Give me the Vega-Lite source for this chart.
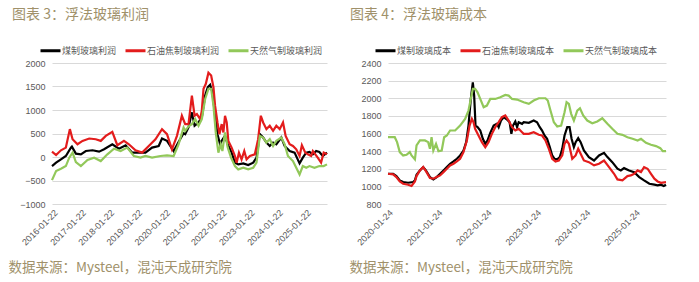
{
"$schema": "https://vega.github.io/schema/vega-lite/v6.json",
"background": "white",
"padding": {"left": 8, "top": 8, "right": 5, "bottom": 2},
"datasets": {
"profit": [
{"date":"2016-01-10","series":"煤制玻璃利润","value":-193},{"date":"2016-03-03","series":"煤制玻璃利润","value":-121},{"date":"2016-05-05","series":"煤制玻璃利润","value":-50},{"date":"2016-07-08","series":"煤制玻璃利润","value":21},{"date":"2016-09-11","series":"煤制玻璃利润","value":200},{"date":"2016-09-24","series":"煤制玻璃利润","value":221},{"date":"2016-11-15","series":"煤制玻璃利润","value":71},{"date":"2017-01-19","series":"煤制玻璃利润","value":57},{"date":"2017-03-24","series":"煤制玻璃利润","value":128},{"date":"2017-06-19","series":"煤制玻璃利润","value":143},{"date":"2017-09-12","series":"煤制玻璃利润","value":114},{"date":"2017-11-16","series":"煤制玻璃利润","value":164},{"date":"2018-03-03","series":"煤制玻璃利润","value":271},{"date":"2018-05-28","series":"煤制玻璃利润","value":178},{"date":"2018-08-23","series":"煤制玻璃利润","value":250},{"date":"2018-11-16","series":"煤制玻璃利润","value":93},{"date":"2019-02-11","series":"煤制玻璃利润","value":93},{"date":"2019-05-07","series":"煤制玻璃利润","value":93},{"date":"2019-08-01","series":"煤制玻璃利润","value":200},{"date":"2019-10-26","series":"煤制玻璃利润","value":235},{"date":"2019-12-08","series":"煤制玻璃利润","value":393},{"date":"2020-02-11","series":"煤制玻璃利润","value":343},{"date":"2020-05-07","series":"煤制玻璃利润","value":128},{"date":"2020-07-10","series":"煤制玻璃利润","value":321},{"date":"2020-09-13","series":"煤制玻璃利润","value":507},{"date":"2020-10-04","series":"煤制玻璃利润","value":486},{"date":"2020-11-16","series":"煤制玻璃利润","value":628},{"date":"2020-12-30","series":"煤制玻璃利润","value":950},{"date":"2021-02-03","series":"煤制玻璃利润","value":664},{"date":"2021-03-26","series":"煤制玻璃利润","value":735},{"date":"2021-05-08","series":"煤制玻璃利润","value":843},{"date":"2021-06-20","series":"煤制玻璃利润","value":1307},{"date":"2021-07-25","series":"煤制玻璃利润","value":1485},{"date":"2021-08-24","series":"煤制玻璃利润","value":1535},{"date":"2021-09-23","series":"煤制玻璃利润","value":1378},{"date":"2021-10-27","series":"煤制玻璃利润","value":878},{"date":"2021-11-27","series":"煤制玻璃利润","value":486},{"date":"2021-12-31","series":"煤制玻璃利润","value":271},{"date":"2022-01-21","series":"煤制玻璃利润","value":343},{"date":"2022-03-05","series":"煤制玻璃利润","value":450},{"date":"2022-04-09","series":"煤制玻璃利润","value":271},{"date":"2022-05-30","series":"煤制玻璃利润","value":93},{"date":"2022-07-12","series":"煤制玻璃利润","value":-121},{"date":"2022-08-24","series":"煤制玻璃利润","value":-157},{"date":"2022-10-28","series":"煤制玻璃利润","value":-136},{"date":"2022-12-31","series":"煤制玻璃利润","value":-171},{"date":"2023-03-06","series":"煤制玻璃利润","value":-121},{"date":"2023-04-18","series":"煤制玻璃利润","value":-14},{"date":"2023-05-31","series":"煤制玻璃利润","value":486},{"date":"2023-07-13","series":"煤制玻璃利润","value":414},{"date":"2023-08-25","series":"煤制玻璃利润","value":307},{"date":"2023-10-07","series":"煤制玻璃利润","value":235},{"date":"2023-11-19","series":"煤制玻璃利润","value":307},{"date":"2023-12-31","series":"煤制玻璃利润","value":271},{"date":"2024-03-05","series":"煤制玻璃利润","value":414},{"date":"2024-04-17","series":"煤制玻璃利润","value":235},{"date":"2024-06-21","series":"煤制玻璃利润","value":128},{"date":"2024-08-24","series":"煤制玻璃利润","value":93},{"date":"2024-10-28","series":"煤制玻璃利润","value":-136},{"date":"2024-12-09","series":"煤制玻璃利润","value":-14},{"date":"2025-01-22","series":"煤制玻璃利润","value":93},{"date":"2025-03-06","series":"煤制玻璃利润","value":107},{"date":"2025-04-18","series":"煤制玻璃利润","value":57},{"date":"2025-05-31","series":"煤制玻璃利润","value":128},{"date":"2025-07-12","series":"煤制玻璃利润","value":107},{"date":"2025-08-25","series":"煤制玻璃利润","value":21},{"date":"2025-10-19","series":"煤制玻璃利润","value":93},
{"date":"2016-01-10","series":"石油焦制玻璃利润","value":114},{"date":"2016-03-03","series":"石油焦制玻璃利润","value":43},{"date":"2016-05-05","series":"石油焦制玻璃利润","value":143},{"date":"2016-07-08","series":"石油焦制玻璃利润","value":200},{"date":"2016-08-29","series":"石油焦制玻璃利润","value":593},{"date":"2016-10-03","series":"石油焦制玻璃利润","value":378},{"date":"2016-12-06","series":"石油焦制玻璃利润","value":271},{"date":"2017-02-09","series":"石油焦制玻璃利润","value":343},{"date":"2017-05-07","series":"石油焦制玻璃利润","value":393},{"date":"2017-07-31","series":"石油焦制玻璃利润","value":378},{"date":"2017-10-04","series":"石油焦制玻璃利润","value":343},{"date":"2017-12-08","series":"石油焦制玻璃利润","value":450},{"date":"2018-03-03","series":"石油焦制玻璃利润","value":535},{"date":"2018-05-07","series":"石油焦制玻璃利润","value":250},{"date":"2018-08-01","series":"石油焦制玻璃利润","value":343},{"date":"2018-10-04","series":"石油焦制玻璃利润","value":271},{"date":"2018-12-29","series":"石油焦制玻璃利润","value":143},{"date":"2019-03-25","series":"石油焦制玻璃利润","value":93},{"date":"2019-06-19","series":"石油焦制玻璃利润","value":235},{"date":"2019-09-14","series":"石油焦制玻璃利润","value":378},{"date":"2019-12-08","series":"石油焦制玻璃利润","value":593},{"date":"2020-02-11","series":"石油焦制玻璃利润","value":486},{"date":"2020-04-15","series":"石油焦制玻璃利润","value":164},{"date":"2020-06-19","series":"石油焦制玻璃利润","value":450},{"date":"2020-08-22","series":"石油焦制玻璃利润","value":878},{"date":"2020-10-04","series":"石油焦制玻璃利润","value":700},{"date":"2020-11-16","series":"石油焦制玻璃利润","value":700},{"date":"2020-12-30","series":"石油焦制玻璃利润","value":1307},{"date":"2021-02-03","series":"石油焦制玻璃利润","value":878},{"date":"2021-03-05","series":"石油焦制玻璃利润","value":914},{"date":"2021-04-17","series":"石油焦制玻璃利润","value":807},{"date":"2021-05-08","series":"石油焦制玻璃利润","value":985},{"date":"2021-05-30","series":"石油焦制玻璃利润","value":1450},{"date":"2021-06-29","series":"石油焦制玻璃利润","value":1557},{"date":"2021-08-02","series":"石油焦制玻璃利润","value":1792},{"date":"2021-09-06","series":"石油焦制玻璃利润","value":1735},{"date":"2021-10-06","series":"石油焦制玻璃利润","value":1485},{"date":"2021-10-27","series":"石油焦制玻璃利润","value":1093},{"date":"2021-11-27","series":"石油焦制玻璃利润","value":735},{"date":"2021-12-22","series":"石油焦制玻璃利润","value":486},{"date":"2022-01-21","series":"石油焦制玻璃利润","value":700},{"date":"2022-02-12","series":"石油焦制玻璃利润","value":521},{"date":"2022-03-05","series":"石油焦制玻璃利润","value":878},{"date":"2022-03-27","series":"石油焦制玻璃利润","value":735},{"date":"2022-04-17","series":"石油焦制玻璃利润","value":343},{"date":"2022-05-30","series":"石油焦制玻璃利润","value":200},{"date":"2022-07-12","series":"石油焦制玻璃利润","value":21},{"date":"2022-08-03","series":"石油焦制玻璃利润","value":-121},{"date":"2022-09-02","series":"石油焦制玻璃利润","value":93},{"date":"2022-10-06","series":"石油焦制玻璃利润","value":-50},{"date":"2022-11-10","series":"石油焦制玻璃利润","value":128},{"date":"2022-12-10","series":"石油焦制玻璃利润","value":-50},{"date":"2023-01-22","series":"石油焦制玻璃利润","value":21},{"date":"2023-03-27","series":"石油焦制玻璃利润","value":57},{"date":"2023-05-09","series":"石油焦制玻璃利润","value":378},{"date":"2023-06-13","series":"石油焦制玻璃利润","value":878},{"date":"2023-07-13","series":"石油焦制玻璃利润","value":735},{"date":"2023-08-25","series":"石油焦制玻璃利润","value":593},{"date":"2023-10-07","series":"石油焦制玻璃利润","value":664},{"date":"2023-11-19","series":"石油焦制玻璃利润","value":557},{"date":"2023-12-31","series":"石油焦制玻璃利润","value":664},{"date":"2024-02-13","series":"石油焦制玻璃利润","value":593},{"date":"2024-03-27","series":"石油焦制玻璃利润","value":735},{"date":"2024-04-30","series":"石油焦制玻璃利润","value":450},{"date":"2024-06-21","series":"石油焦制玻璃利润","value":271},{"date":"2024-08-03","series":"石油焦制玻璃利润","value":235},{"date":"2024-09-15","series":"石油焦制玻璃利润","value":164},{"date":"2024-10-28","series":"石油焦制玻璃利润","value":21},{"date":"2024-11-27","series":"石油焦制玻璃利润","value":250},{"date":"2025-01-10","series":"石油焦制玻璃利润","value":93},{"date":"2025-02-12","series":"石油焦制玻璃利润","value":57},{"date":"2025-03-27","series":"石油焦制玻璃利润","value":21},{"date":"2025-04-18","series":"石油焦制玻璃利润","value":128},{"date":"2025-06-21","series":"石油焦制玻璃利润","value":-14},{"date":"2025-08-03","series":"石油焦制玻璃利润","value":-121},{"date":"2025-09-06","series":"石油焦制玻璃利润","value":93},{"date":"2025-10-19","series":"石油焦制玻璃利润","value":57},
{"date":"2016-01-10","series":"天然气制玻璃利润","value":-493},{"date":"2016-03-03","series":"天然气制玻璃利润","value":-300},{"date":"2016-05-05","series":"天然气制玻璃利润","value":-250},{"date":"2016-07-08","series":"天然气制玻璃利润","value":-193},{"date":"2016-08-21","series":"天然气制玻璃利润","value":-14},{"date":"2016-10-03","series":"天然气制玻璃利润","value":93},{"date":"2016-11-15","series":"天然气制玻璃利润","value":-107},{"date":"2017-01-19","series":"天然气制玻璃利润","value":-193},{"date":"2017-04-15","series":"天然气制玻璃利润","value":-64},{"date":"2017-07-10","series":"天然气制玻璃利润","value":-14},{"date":"2017-10-04","series":"天然气制玻璃利润","value":-86},{"date":"2017-12-29","series":"天然气制玻璃利润","value":57},{"date":"2018-03-25","series":"天然气制玻璃利润","value":178},{"date":"2018-06-19","series":"天然气制玻璃利润","value":128},{"date":"2018-09-13","series":"天然气制玻璃利润","value":200},{"date":"2018-12-08","series":"天然气制玻璃利润","value":21},{"date":"2019-03-04","series":"天然气制玻璃利润","value":-14},{"date":"2019-05-07","series":"天然气制玻璃利润","value":21},{"date":"2019-08-01","series":"天然气制玻璃利润","value":-14},{"date":"2019-11-17","series":"天然气制玻璃利润","value":21},{"date":"2020-02-11","series":"天然气制玻璃利润","value":35},{"date":"2020-05-07","series":"天然气制玻璃利润","value":21},{"date":"2020-07-10","series":"天然气制玻璃利润","value":271},{"date":"2020-09-13","series":"天然气制玻璃利润","value":628},{"date":"2020-10-04","series":"天然气制玻璃利润","value":557},{"date":"2020-11-16","series":"天然气制玻璃利润","value":650},{"date":"2020-12-30","series":"天然气制玻璃利润","value":700},{"date":"2021-02-11","series":"天然气制玻璃利润","value":807},{"date":"2021-03-26","series":"天然气制玻璃利润","value":664},{"date":"2021-05-08","series":"天然气制玻璃利润","value":807},{"date":"2021-06-20","series":"天然气制玻璃利润","value":1235},{"date":"2021-08-02","series":"天然气制玻璃利润","value":1450},{"date":"2021-09-06","series":"天然气制玻璃利润","value":1450},{"date":"2021-10-06","series":"天然气制玻璃利润","value":1093},{"date":"2021-11-05","series":"天然气制玻璃利润","value":521},{"date":"2021-12-09","series":"天然气制玻璃利润","value":93},{"date":"2022-01-08","series":"天然气制玻璃利润","value":271},{"date":"2022-01-30","series":"天然气制玻璃利润","value":128},{"date":"2022-03-05","series":"天然气制玻璃利润","value":521},{"date":"2022-04-09","series":"天然气制玻璃利润","value":200},{"date":"2022-05-22","series":"天然气制玻璃利润","value":-14},{"date":"2022-07-12","series":"天然气制玻璃利润","value":-193},{"date":"2022-08-24","series":"天然气制玻璃利润","value":-264},{"date":"2022-10-28","series":"天然气制玻璃利润","value":-228},{"date":"2022-12-31","series":"天然气制玻璃利润","value":-264},{"date":"2023-03-06","series":"天然气制玻璃利润","value":-228},{"date":"2023-04-18","series":"天然气制玻璃利润","value":-121},{"date":"2023-05-31","series":"天然气制玻璃利润","value":450},{"date":"2023-07-13","series":"天然气制玻璃利润","value":414},{"date":"2023-08-25","series":"天然气制玻璃利润","value":307},{"date":"2023-10-07","series":"天然气制玻璃利润","value":378},{"date":"2023-11-19","series":"天然气制玻璃利润","value":235},{"date":"2023-12-31","series":"天然气制玻璃利润","value":343},{"date":"2024-03-05","series":"天然气制玻璃利润","value":414},{"date":"2024-04-17","series":"天然气制玻璃利润","value":271},{"date":"2024-05-30","series":"天然气制玻璃利润","value":21},{"date":"2024-08-03","series":"天然气制玻璃利润","value":-86},{"date":"2024-09-15","series":"天然气制玻璃利润","value":-228},{"date":"2024-10-28","series":"天然气制玻璃利润","value":-371},{"date":"2024-12-09","series":"天然气制玻璃利润","value":-193},{"date":"2025-01-22","series":"天然气制玻璃利润","value":-228},{"date":"2025-03-06","series":"天然气制玻璃利润","value":-193},{"date":"2025-05-09","series":"天然气制玻璃利润","value":-228},{"date":"2025-07-12","series":"天然气制玻璃利润","value":-193},{"date":"2025-09-06","series":"天然气制玻璃利润","value":-193},{"date":"2025-10-19","series":"天然气制玻璃利润","value":-157}
],
"cost": [
{"date":"2020-01-24","series":"煤制玻璃成本","value":1143},{"date":"2020-03-02","series":"煤制玻璃成本","value":1143},{"date":"2020-03-26","series":"煤制玻璃成本","value":1117},{"date":"2020-04-20","series":"煤制玻璃成本","value":1068},{"date":"2020-05-15","series":"煤制玻璃成本","value":1049},{"date":"2020-06-21","series":"煤制玻璃成本","value":1041},{"date":"2020-07-28","series":"煤制玻璃成本","value":1049},{"date":"2020-08-10","series":"煤制玻璃成本","value":1068},{"date":"2020-08-22","series":"煤制玻璃成本","value":1132},{"date":"2020-09-16","series":"煤制玻璃成本","value":1181},{"date":"2020-10-10","series":"煤制玻璃成本","value":1219},{"date":"2020-10-30","series":"煤制玻璃成本","value":1181},{"date":"2020-11-29","series":"煤制玻璃成本","value":1106},{"date":"2020-12-24","series":"煤制玻璃成本","value":1079},{"date":"2021-01-18","series":"煤制玻璃成本","value":1106},{"date":"2021-02-12","series":"煤制玻璃成本","value":1143},{"date":"2021-03-09","series":"煤制玻璃成本","value":1181},{"date":"2021-04-03","series":"煤制玻璃成本","value":1219},{"date":"2021-04-27","series":"煤制玻璃成本","value":1257},{"date":"2021-05-22","series":"煤制玻璃成本","value":1283},{"date":"2021-06-16","series":"煤制玻璃成本","value":1313},{"date":"2021-07-10","series":"煤制玻璃成本","value":1351},{"date":"2021-08-04","series":"煤制玻璃成本","value":1407},{"date":"2021-08-24","series":"煤制玻璃成本","value":1502},{"date":"2021-09-10","series":"煤制玻璃成本","value":1690},{"date":"2021-09-27","series":"煤制玻璃成本","value":1992},{"date":"2021-10-12","series":"煤制玻璃成本","value":2181},{"date":"2021-10-22","series":"煤制玻璃成本","value":2030},{"date":"2021-11-01","series":"煤制玻璃成本","value":1690},{"date":"2021-11-16","series":"煤制玻璃成本","value":1672},{"date":"2021-12-06","series":"煤制玻璃成本","value":1634},{"date":"2021-12-25","series":"煤制玻璃成本","value":1540},{"date":"2022-01-12","series":"煤制玻璃成本","value":1483},{"date":"2022-01-29","series":"煤制玻璃成本","value":1521},{"date":"2022-02-18","series":"煤制玻璃成本","value":1607},{"date":"2022-03-15","series":"煤制玻璃成本","value":1690},{"date":"2022-04-08","series":"煤制玻璃成本","value":1710},{"date":"2022-04-21","series":"煤制玻璃成本","value":1672},{"date":"2022-05-08","series":"煤制玻璃成本","value":1747},{"date":"2022-05-28","series":"煤制玻璃成本","value":1785},{"date":"2022-06-22","series":"煤制玻璃成本","value":1758},{"date":"2022-07-11","series":"煤制玻璃成本","value":1728},{"date":"2022-07-24","series":"煤制玻璃成本","value":1596},{"date":"2022-08-05","series":"煤制玻璃成本","value":1690},{"date":"2022-08-22","series":"煤制玻璃成本","value":1736},{"date":"2022-09-04","series":"煤制玻璃成本","value":1672},{"date":"2022-09-16","series":"煤制玻璃成本","value":1728},{"date":"2022-10-11","series":"煤制玻璃成本","value":1710},{"date":"2022-10-23","series":"煤制玻璃成本","value":1728},{"date":"2022-11-30","series":"煤制玻璃成本","value":1721},{"date":"2023-01-05","series":"煤制玻璃成本","value":1747},{"date":"2023-01-30","series":"煤制玻璃成本","value":1728},{"date":"2023-02-19","series":"煤制玻璃成本","value":1672},{"date":"2023-03-08","series":"煤制玻璃成本","value":1634},{"date":"2023-03-26","series":"煤制玻璃成本","value":1577},{"date":"2023-04-14","series":"煤制玻璃成本","value":1540},{"date":"2023-05-04","series":"煤制玻璃成本","value":1445},{"date":"2023-05-22","series":"煤制玻璃成本","value":1351},{"date":"2023-06-08","series":"煤制玻璃成本","value":1313},{"date":"2023-06-28","series":"煤制玻璃成本","value":1306},{"date":"2023-07-17","series":"煤制玻璃成本","value":1332},{"date":"2023-08-04","series":"煤制玻璃成本","value":1426},{"date":"2023-08-21","series":"煤制玻璃成本","value":1577},{"date":"2023-09-10","series":"煤制玻璃成本","value":1672},{"date":"2023-09-27","series":"煤制玻璃成本","value":1672},{"date":"2023-10-12","series":"煤制玻璃成本","value":1540},{"date":"2023-10-29","series":"煤制玻璃成本","value":1445},{"date":"2023-11-11","series":"煤制玻璃成本","value":1502},{"date":"2023-11-30","series":"煤制玻璃成本","value":1547},{"date":"2023-12-18","series":"煤制玻璃成本","value":1502},{"date":"2024-01-11","series":"煤制玻璃成本","value":1407},{"date":"2024-02-17","series":"煤制玻璃成本","value":1332},{"date":"2024-03-26","series":"煤制玻璃成本","value":1294},{"date":"2024-05-02","series":"煤制玻璃成本","value":1351},{"date":"2024-06-08","series":"煤制玻璃成本","value":1381},{"date":"2024-07-03","series":"煤制玻璃成本","value":1332},{"date":"2024-08-08","series":"煤制玻璃成本","value":1275},{"date":"2024-09-15","series":"煤制玻璃成本","value":1200},{"date":"2024-10-10","series":"煤制玻璃成本","value":1181},{"date":"2024-11-03","series":"煤制玻璃成本","value":1207},{"date":"2024-12-10","series":"煤制玻璃成本","value":1181},{"date":"2025-01-17","series":"煤制玻璃成本","value":1162},{"date":"2025-02-23","series":"煤制玻璃成本","value":1106},{"date":"2025-03-31","series":"煤制玻璃成本","value":1068},{"date":"2025-05-09","series":"煤制玻璃成本","value":1030},{"date":"2025-06-15","series":"煤制玻璃成本","value":1019},{"date":"2025-07-09","series":"煤制玻璃成本","value":1011},{"date":"2025-08-03","series":"煤制玻璃成本","value":1019},{"date":"2025-08-23","series":"煤制玻璃成本","value":1004},{"date":"2025-09-09","series":"煤制玻璃成本","value":1019},
{"date":"2020-01-24","series":"石油焦制玻璃成本","value":1143},{"date":"2020-03-02","series":"石油焦制玻璃成本","value":1136},{"date":"2020-03-26","series":"石油焦制玻璃成本","value":1106},{"date":"2020-04-20","series":"石油焦制玻璃成本","value":1056},{"date":"2020-05-15","series":"石油焦制玻璃成本","value":1030},{"date":"2020-06-21","series":"石油焦制玻璃成本","value":1019},{"date":"2020-07-16","series":"石油焦制玻璃成本","value":1004},{"date":"2020-08-10","series":"石油焦制玻璃成本","value":1056},{"date":"2020-08-22","series":"石油焦制玻璃成本","value":1117},{"date":"2020-09-16","series":"石油焦制玻璃成本","value":1181},{"date":"2020-10-10","series":"石油焦制玻璃成本","value":1219},{"date":"2020-11-04","series":"石油焦制玻璃成本","value":1162},{"date":"2020-11-29","series":"石油焦制玻璃成本","value":1094},{"date":"2020-12-24","series":"石油焦制玻璃成本","value":1087},{"date":"2021-01-18","series":"石油焦制玻璃成本","value":1106},{"date":"2021-02-12","series":"石油焦制玻璃成本","value":1124},{"date":"2021-03-09","series":"石油焦制玻璃成本","value":1162},{"date":"2021-04-03","series":"石油焦制玻璃成本","value":1200},{"date":"2021-04-27","series":"石油焦制玻璃成本","value":1238},{"date":"2021-05-22","series":"石油焦制玻璃成本","value":1257},{"date":"2021-06-16","series":"石油焦制玻璃成本","value":1283},{"date":"2021-07-10","series":"石油焦制玻璃成本","value":1313},{"date":"2021-08-04","series":"石油焦制玻璃成本","value":1389},{"date":"2021-08-29","series":"石油焦制玻璃成本","value":1521},{"date":"2021-09-18","series":"石油焦制玻璃成本","value":1690},{"date":"2021-10-05","series":"石油焦制玻璃成本","value":1766},{"date":"2021-10-17","series":"石油焦制玻璃成本","value":1728},{"date":"2021-10-29","series":"石油焦制玻璃成本","value":1653},{"date":"2021-11-23","series":"石油焦制玻璃成本","value":1577},{"date":"2021-12-18","series":"石油焦制玻璃成本","value":1502},{"date":"2022-01-12","series":"石油焦制玻璃成本","value":1445},{"date":"2022-02-05","series":"石油焦制玻璃成本","value":1502},{"date":"2022-03-02","series":"石油焦制玻璃成本","value":1596},{"date":"2022-03-27","series":"石油焦制玻璃成本","value":1672},{"date":"2022-04-21","series":"石油焦制玻璃成本","value":1728},{"date":"2022-05-15","series":"石油焦制玻璃成本","value":1785},{"date":"2022-06-09","series":"石油焦制玻璃成本","value":1804},{"date":"2022-07-04","series":"石油焦制玻璃成本","value":1747},{"date":"2022-07-29","series":"石油焦制玻璃成本","value":1672},{"date":"2022-08-22","series":"石油焦制玻璃成本","value":1634},{"date":"2022-09-16","series":"石油焦制玻璃成本","value":1653},{"date":"2022-10-11","series":"石油焦制玻璃成本","value":1615},{"date":"2022-10-23","series":"石油焦制玻璃成本","value":1596},{"date":"2022-11-30","series":"石油焦制玻璃成本","value":1596},{"date":"2023-01-05","series":"石油焦制玻璃成本","value":1615},{"date":"2023-02-12","series":"石油焦制玻璃成本","value":1585},{"date":"2023-03-08","series":"石油焦制玻璃成本","value":1577},{"date":"2023-04-02","series":"石油焦制玻璃成本","value":1521},{"date":"2023-04-27","series":"石油焦制玻璃成本","value":1426},{"date":"2023-05-22","series":"石油焦制玻璃成本","value":1313},{"date":"2023-06-15","series":"石油焦制玻璃成本","value":1283},{"date":"2023-07-10","series":"石油焦制玻璃成本","value":1294},{"date":"2023-08-04","series":"石油焦制玻璃成本","value":1351},{"date":"2023-08-21","series":"石油焦制玻璃成本","value":1483},{"date":"2023-09-05","series":"石油焦制玻璃成本","value":1521},{"date":"2023-09-22","series":"石油焦制玻璃成本","value":1483},{"date":"2023-10-17","series":"石油焦制玻璃成本","value":1313},{"date":"2023-11-11","series":"石油焦制玻璃成本","value":1351},{"date":"2023-11-30","series":"石油焦制玻璃成本","value":1426},{"date":"2023-12-18","series":"石油焦制玻璃成本","value":1370},{"date":"2024-01-11","series":"石油焦制玻璃成本","value":1294},{"date":"2024-02-17","series":"石油焦制玻璃成本","value":1275},{"date":"2024-03-26","series":"石油焦制玻璃成本","value":1238},{"date":"2024-05-02","series":"石油焦制玻璃成本","value":1257},{"date":"2024-06-08","series":"石油焦制玻璃成本","value":1294},{"date":"2024-07-15","series":"石油焦制玻璃成本","value":1219},{"date":"2024-08-21","series":"石油焦制玻璃成本","value":1143},{"date":"2024-09-15","series":"石油焦制玻璃成本","value":1079},{"date":"2024-10-22","series":"石油焦制玻璃成本","value":1068},{"date":"2024-11-28","series":"石油焦制玻璃成本","value":1117},{"date":"2024-12-23","series":"石油焦制玻璃成本","value":1124},{"date":"2025-01-17","series":"石油焦制玻璃成本","value":1143},{"date":"2025-02-11","series":"石油焦制玻璃成本","value":1181},{"date":"2025-03-08","series":"石油焦制玻璃成本","value":1162},{"date":"2025-03-31","series":"石油焦制玻璃成本","value":1219},{"date":"2025-04-26","series":"石油焦制玻璃成本","value":1200},{"date":"2025-05-21","series":"石油焦制玻璃成本","value":1143},{"date":"2025-06-15","series":"石油焦制玻璃成本","value":1087},{"date":"2025-07-09","series":"石油焦制玻璃成本","value":1056},{"date":"2025-08-03","series":"石油焦制玻璃成本","value":1041},{"date":"2025-09-09","series":"石油焦制玻璃成本","value":1049},
{"date":"2020-01-24","series":"天然气制玻璃成本","value":1558},{"date":"2020-03-14","series":"天然气制玻璃成本","value":1558},{"date":"2020-03-31","series":"天然气制玻璃成本","value":1502},{"date":"2020-04-20","series":"天然气制玻璃成本","value":1389},{"date":"2020-05-15","series":"天然气制玻璃成本","value":1351},{"date":"2020-06-09","series":"天然气制玻璃成本","value":1358},{"date":"2020-07-03","series":"天然气制玻璃成本","value":1389},{"date":"2020-07-16","series":"天然气制玻璃成本","value":1351},{"date":"2020-08-10","series":"天然气制玻璃成本","value":1306},{"date":"2020-08-22","series":"天然气制玻璃成本","value":1464},{"date":"2020-09-16","series":"天然气制玻璃成本","value":1521},{"date":"2020-10-23","series":"天然气制玻璃成本","value":1521},{"date":"2020-11-16","series":"天然气制玻璃成本","value":1502},{"date":"2020-11-29","series":"天然气制玻璃成本","value":1426},{"date":"2020-12-11","series":"天然气制玻璃成本","value":1558},{"date":"2020-12-24","series":"天然气制玻璃成本","value":1407},{"date":"2021-01-13","series":"天然气制玻璃成本","value":1483},{"date":"2021-01-31","series":"天然气制玻璃成本","value":1400},{"date":"2021-02-24","series":"天然气制玻璃成本","value":1407},{"date":"2021-03-14","series":"天然气制玻璃成本","value":1558},{"date":"2021-04-03","series":"天然气制玻璃成本","value":1577},{"date":"2021-04-27","series":"天然气制玻璃成本","value":1634},{"date":"2021-06-03","series":"天然气制玻璃成本","value":1634},{"date":"2021-07-10","series":"天然气制玻璃成本","value":1690},{"date":"2021-08-16","series":"天然气制玻璃成本","value":1766},{"date":"2021-09-10","series":"天然气制玻璃成本","value":1860},{"date":"2021-09-27","series":"天然气制玻璃成本","value":1992},{"date":"2021-10-12","series":"天然气制玻璃成本","value":2106},{"date":"2021-10-29","series":"天然气制玻璃成本","value":2106},{"date":"2021-11-16","series":"天然气制玻璃成本","value":2068},{"date":"2021-12-06","series":"天然气制玻璃成本","value":1992},{"date":"2021-12-31","series":"天然气制玻璃成本","value":1898},{"date":"2022-01-24","series":"天然气制玻璃成本","value":1917},{"date":"2022-02-18","series":"天然气制玻璃成本","value":1992},{"date":"2022-03-27","series":"天然气制玻璃成本","value":1992},{"date":"2022-05-03","series":"天然气制玻璃成本","value":2011},{"date":"2022-06-09","series":"天然气制玻璃成本","value":2038},{"date":"2022-07-04","series":"天然气制玻璃成本","value":2030},{"date":"2022-07-29","series":"天然气制玻璃成本","value":1992},{"date":"2022-09-04","series":"天然气制玻璃成本","value":1985},{"date":"2022-10-23","series":"天然气制玻璃成本","value":1955},{"date":"2022-11-30","series":"天然气制玻璃成本","value":1936},{"date":"2023-01-05","series":"天然气制玻璃成本","value":1974},{"date":"2023-02-12","series":"天然气制玻璃成本","value":2000},{"date":"2023-04-02","series":"天然气制玻璃成本","value":2000},{"date":"2023-04-19","series":"天然气制玻璃成本","value":1974},{"date":"2023-05-09","series":"天然气制玻璃成本","value":1860},{"date":"2023-06-03","series":"天然气制玻璃成本","value":1728},{"date":"2023-06-28","series":"天然气制玻璃成本","value":1679},{"date":"2023-07-27","series":"天然气制玻璃成本","value":1690},{"date":"2023-08-21","series":"天然气制玻璃成本","value":1841},{"date":"2023-09-05","series":"天然气制玻璃成本","value":1955},{"date":"2023-09-22","series":"天然气制玻璃成本","value":1936},{"date":"2023-10-09","series":"天然气制玻璃成本","value":1823},{"date":"2023-10-29","series":"天然气制玻璃成本","value":1747},{"date":"2023-11-23","series":"天然气制玻璃成本","value":1860},{"date":"2023-12-13","series":"天然气制玻璃成本","value":1887},{"date":"2024-01-06","series":"天然气制玻璃成本","value":1804},{"date":"2024-02-05","series":"天然气制玻璃成本","value":1747},{"date":"2024-03-13","series":"天然气制玻璃成本","value":1717},{"date":"2024-04-19","series":"天然气制玻璃成本","value":1736},{"date":"2024-05-26","series":"天然气制玻璃成本","value":1773},{"date":"2024-07-03","series":"天然气制玻璃成本","value":1710},{"date":"2024-08-08","series":"天然气制玻璃成本","value":1653},{"date":"2024-09-15","series":"天然气制玻璃成本","value":1596},{"date":"2024-10-22","series":"天然气制玻璃成本","value":1585},{"date":"2024-11-28","series":"天然气制玻璃成本","value":1558},{"date":"2025-01-05","series":"天然气制玻璃成本","value":1540},{"date":"2025-02-11","series":"天然气制玻璃成本","value":1521},{"date":"2025-03-08","series":"天然气制玻璃成本","value":1540},{"date":"2025-04-14","series":"天然气制玻璃成本","value":1494},{"date":"2025-05-21","series":"天然气制玻璃成本","value":1472},{"date":"2025-06-27","series":"天然气制玻璃成本","value":1457},{"date":"2025-07-29","series":"天然气制玻璃成本","value":1434},{"date":"2025-08-16","series":"天然气制玻璃成本","value":1400},{"date":"2025-09-09","series":"天然气制玻璃成本","value":1400}
]
},
"hconcat": [
{
"data": {"name": "profit"},
"width": 275, "height": 141,
"title": {"text": "图表 3：浮法玻璃利润", "anchor": "start", "frame": "bounds", "dx": 4, "offset": 17},
"mark": {"type": "line", "strokeWidth": 2.2},
"encoding": {
"x": {"field": "date", "type": "temporal", "scale": {"type": "utc", "nice": false},
"axis": {"values": [{"year":2016,"month":1,"date":22,"utc":true},{"year":2017,"month":1,"date":22,"utc":true},{"year":2018,"month":1,"date":22,"utc":true},{"year":2019,"month":1,"date":22,"utc":true},{"year":2020,"month":1,"date":22,"utc":true},{"year":2021,"month":1,"date":22,"utc":true},{"year":2022,"month":1,"date":22,"utc":true},{"year":2023,"month":1,"date":22,"utc":true},{"year":2024,"month":1,"date":22,"utc":true},{"year":2025,"month":1,"date":22,"utc":true}],
"labelExpr": "utcFormat(datum.value, '%Y-%m-%d')",
"title": "数据来源：Mysteel，混沌天成研究院", "titleX": -44}},
"y": {"field": "value", "type": "quantitative", "scale": {"domain": [-1000, 2000], "nice": false},
"axis": {"values": [-1000,-500,0,500,1000,1500,2000], "format": "d", "title": null}},
"color": {"field": "series", "type": "nominal",
"scale": {"domain": ["煤制玻璃利润","石油焦制玻璃利润","天然气制玻璃利润"], "range": ["#000000","#e31c1c","#92c85a"]},
"legend": {"orient": "none", "legendX": -13, "legendY": -24, "direction": "horizontal", "title": null}}
}
},
{
"data": {"name": "cost"},
"width": 278, "height": 141,
"title": {"text": "图表 4：浮法玻璃成本", "anchor": "start", "frame": "bounds", "dx": 1, "offset": 17},
"mark": {"type": "line", "strokeWidth": 2.2},
"encoding": {
"x": {"field": "date", "type": "temporal", "scale": {"type": "utc", "nice": false},
"axis": {"values": [{"year":2020,"month":1,"date":24,"utc":true},{"year":2021,"month":1,"date":24,"utc":true},{"year":2022,"month":1,"date":24,"utc":true},{"year":2023,"month":1,"date":24,"utc":true},{"year":2024,"month":1,"date":24,"utc":true},{"year":2025,"month":1,"date":24,"utc":true}],
"labelExpr": "utcFormat(datum.value, '%Y-%m-%d')",
"title": "数据来源：Mysteel，混沌天成研究院", "titleX": -39}},
"y": {"field": "value", "type": "quantitative", "scale": {"domain": [800, 2400], "nice": false},
"axis": {"values": [800,1000,1200,1400,1600,1800,2000,2200,2400], "format": "d", "title": null}},
"color": {"field": "series", "type": "nominal",
"scale": {"domain": ["煤制玻璃成本","石油焦制玻璃成本","天然气制玻璃成本"], "range": ["#000000","#e31c1c","#92c85a"]},
"legend": {"orient": "none", "legendX": -14, "legendY": -24, "direction": "horizontal", "title": null}}
}
}
],
"spacing": 17,
"resolve": {"scale": {"color": "independent", "x": "independent", "y": "independent"}, "legend": {"color": "independent"}},
"config": {
"font": "Noto Sans CJK SC",
"view": {"stroke": null},
"title": {"fontSize": 14, "fontWeight": "normal", "color": "#a0916a", "font": "Noto Sans CJK SC"},
"axisY": {"domain": false, "ticks": false, "grid": true, "gridColor": "#d9d9d9", "gridWidth": 1, "labelColor": "#595959", "labelFontSize": 9, "labelPadding": 7, "labelFont": "Liberation Sans"},
"axisX": {"domain": false, "ticks": false, "grid": false, "labelAngle": -45, "labelColor": "#595959", "labelFontSize": 9, "labelPadding": 4, "labelFont": "Liberation Sans", "labelOverlap": false, "labelFlush": false,
"titleAnchor": "start", "titleAlign": "left", "titleBaseline": "top", "titlePadding": 14, "titleFontSize": 13.5, "titleFontWeight": "normal", "titleColor": "#a0916a", "titleFont": "Noto Sans CJK SC"},
"legend": {"symbolType": "stroke", "symbolSize": 400, "symbolStrokeWidth": 3, "labelFontSize": 9, "labelColor": "#595959", "columnPadding": 2, "labelOffset": 0, "padding": 0}
}
}
